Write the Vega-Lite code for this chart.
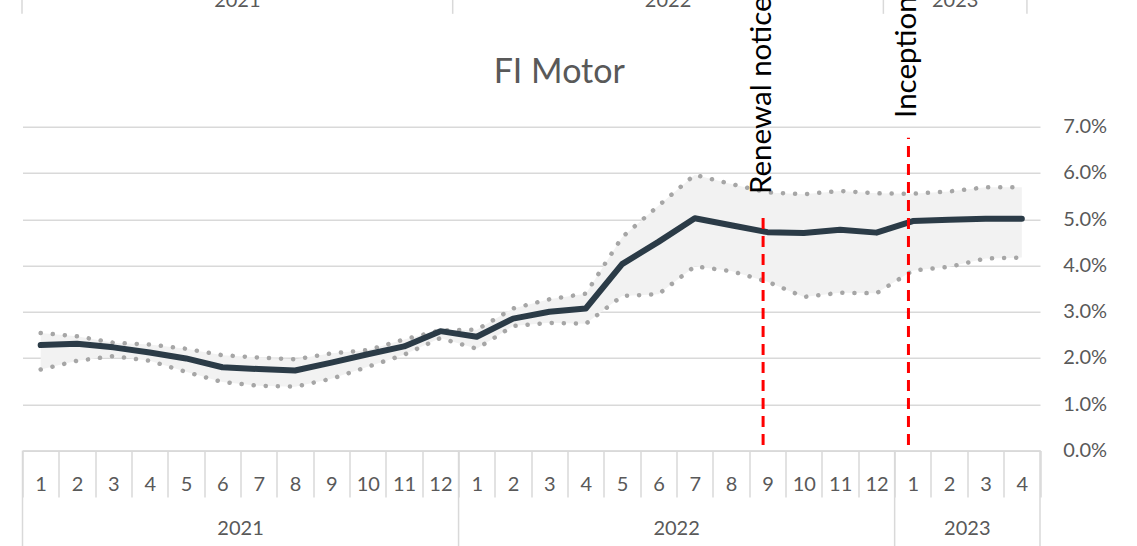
{
  "$schema": "https://vega.github.io/schema/vega-lite/v6.json",
  "autosize": {"type": "none"},
  "padding": {"left": 22.5, "top": 126.7, "right": 97, "bottom": 95.5},
  "width": 1017.5,
  "height": 323.8,
  "background": "white",
  "config": {"font": "Lato", "view": {"stroke": null}},
  "title": {"text": "FI Motor", "fontSize": 34, "font": "Lato", "fontWeight": "normal", "color": "#595959", "anchor": "middle", "frame": "group", "baseline": "alphabetic", "offset": -129.4, "dx": 28},
  "datasets": {
    "series": [
      {"m": "2021-01", "value": 0.0228, "upper": 0.0254, "lower": 0.0175},
      {"m": "2021-02", "value": 0.0231, "upper": 0.0247, "lower": 0.0194},
      {"m": "2021-03", "value": 0.0223, "upper": 0.0233, "lower": 0.0204},
      {"m": "2021-04", "value": 0.0212, "upper": 0.0229, "lower": 0.0194},
      {"m": "2021-05", "value": 0.0199, "upper": 0.0220, "lower": 0.0170},
      {"m": "2021-06", "value": 0.0180, "upper": 0.0206, "lower": 0.0148},
      {"m": "2021-07", "value": 0.0176, "upper": 0.0201, "lower": 0.0140},
      {"m": "2021-08", "value": 0.0173, "upper": 0.0197, "lower": 0.0138},
      {"m": "2021-09", "value": 0.0190, "upper": 0.0210, "lower": 0.0155},
      {"m": "2021-10", "value": 0.0208, "upper": 0.0217, "lower": 0.0181},
      {"m": "2021-11", "value": 0.0225, "upper": 0.0240, "lower": 0.0207},
      {"m": "2021-12", "value": 0.0258, "upper": 0.0260, "lower": 0.0243},
      {"m": "2022-01", "value": 0.0246, "upper": 0.0261, "lower": 0.0220},
      {"m": "2022-02", "value": 0.0285, "upper": 0.0307, "lower": 0.0269},
      {"m": "2022-03", "value": 0.0300, "upper": 0.0327, "lower": 0.0276},
      {"m": "2022-04", "value": 0.0307, "upper": 0.0339, "lower": 0.0274},
      {"m": "2022-05", "value": 0.0403, "upper": 0.0461, "lower": 0.0334},
      {"m": "2022-06", "value": 0.0451, "upper": 0.0529, "lower": 0.0338},
      {"m": "2022-07", "value": 0.0502, "upper": 0.0596, "lower": 0.0398},
      {"m": "2022-08", "value": 0.0487, "upper": 0.0576, "lower": 0.0388},
      {"m": "2022-09", "value": 0.0472, "upper": 0.0558, "lower": 0.0365},
      {"m": "2022-10", "value": 0.0470, "upper": 0.0554, "lower": 0.0332},
      {"m": "2022-11", "value": 0.0477, "upper": 0.0561, "lower": 0.0341},
      {"m": "2022-12", "value": 0.0471, "upper": 0.0556, "lower": 0.0340},
      {"m": "2023-01", "value": 0.0496, "upper": 0.0555, "lower": 0.0389},
      {"m": "2023-02", "value": 0.0499, "upper": 0.0560, "lower": 0.0397},
      {"m": "2023-03", "value": 0.0501, "upper": 0.0569, "lower": 0.0415},
      {"m": "2023-04", "value": 0.0501, "upper": 0.0569, "lower": 0.0417}
    ],
    "events": [
      {"m": "2022-09", "event": "Renewal notice", "low": 0.0012, "top": 0.0507, "label_y": 0.05545},
      {"m": "2023-01", "event": "Inception", "low": 0.0012, "top": 0.0676, "label_y": 0.0719}
    ],
    "years": [
      {"year": "2021", "m": "2021-07"},
      {"year": "2022", "m": "2022-07"},
      {"year": "2023", "m": "2023-03"}
    ],
    "remnant_lines": [{"rx": 0}, {"rx": 12}, {"rx": 24}, {"rx": 28}],
    "remnant_labels": [{"rx": 6, "year": "2021"}, {"rx": 18, "year": "2022"}, {"rx": 26, "year": "2023"}]
  },
  "layer": [
    {
      "layer": [
        {
          "data": {"name": "series"},
          "mark": {"type": "area", "color": "#f2f2f2"},
          "encoding": {
            "x": {"field": "m", "type": "ordinal", "scale": {"type": "band", "paddingInner": 0, "paddingOuter": 0},
                  "axis": {"orient": "bottom", "title": null, "domain": true, "domainColor": "#d9d9d9", "domainWidth": 1.5, "ticks": true, "tickBand": "extent", "tickSize": 46.5, "tickColor": "#d9d9d9", "tickWidth": 1.5, "grid": false, "labelAngle": 0, "labelFontSize": 20, "labelColor": "#595959", "labelPadding": -22.5, "labelExpr": "isString(datum.value) ? '' + toNumber(substring(datum.value, 5, 7)) : ''"}},
            "y": {"field": "lower", "type": "quantitative", "scale": {"domain": [0, 0.07], "nice": false, "zero": false},
                  "axis": {"orient": "right", "title": null, "format": ".1%", "values": [0, 0.01, 0.02, 0.03, 0.04, 0.05, 0.06, 0.07], "domain": false, "ticks": false, "labelFontSize": 20, "labelColor": "#595959", "labelPadding": 22.7, "labelAlign": "left", "labelBaseline": "middle", "grid": true, "gridColor": "#d9d9d9", "gridWidth": 1.5}},
            "y2": {"field": "upper"}
          }
        },
        {
          "data": {"name": "series"},
          "mark": {"type": "line", "color": "#a6a6a6", "strokeWidth": 4.5, "strokeDash": [0.1, 12], "strokeCap": "round"},
          "encoding": {
            "x": {"field": "m", "type": "ordinal"},
            "y": {"field": "upper", "type": "quantitative"}
          }
        },
        {
          "data": {"name": "series"},
          "mark": {"type": "line", "color": "#a6a6a6", "strokeWidth": 4.5, "strokeDash": [0.1, 12], "strokeCap": "round"},
          "encoding": {
            "x": {"field": "m", "type": "ordinal"},
            "y": {"field": "lower", "type": "quantitative"}
          }
        },
        {
          "data": {"name": "series"},
          "mark": {"type": "line", "color": "#2b3b47", "strokeWidth": 6, "strokeCap": "round", "strokeJoin": "round"},
          "encoding": {
            "x": {"field": "m", "type": "ordinal"},
            "y": {"field": "value", "type": "quantitative"}
          }
        },
        {
          "data": {"name": "events"},
          "mark": {"type": "rule", "color": "#ff0000", "strokeWidth": 3, "strokeDash": [11, 7]},
          "encoding": {
            "x": {"field": "m", "type": "ordinal", "bandPosition": 0.38},
            "y": {"field": "low", "type": "quantitative"},
            "y2": {"field": "top"}
          }
        },
        {
          "data": {"name": "events"},
          "mark": {"type": "text", "angle": 270, "align": "left", "baseline": "alphabetic", "fontSize": 29.5, "color": "#000000", "dy": 7.5},
          "encoding": {
            "x": {"field": "m", "type": "ordinal", "bandPosition": 0.38},
            "y": {"field": "label_y", "type": "quantitative"},
            "text": {"field": "event"}
          }
        },
        {
          "data": {"name": "series"},
          "transform": [{"filter": "substring(datum.m, 5, 7) == '01'"}],
          "mark": {"type": "rule", "color": "#d9d9d9", "strokeWidth": 1.5},
          "encoding": {
            "x": {"field": "m", "type": "ordinal", "bandPosition": 0},
            "y": {"datum": 0, "type": "quantitative"},
            "y2": {"datum": -0.023}
          }
        },
        {
          "data": {"name": "series"},
          "transform": [{"filter": "datum.m == '2023-04'"}],
          "mark": {"type": "rule", "color": "#d9d9d9", "strokeWidth": 1.5},
          "encoding": {
            "x": {"field": "m", "type": "ordinal", "bandPosition": 1},
            "y": {"datum": 0, "type": "quantitative"},
            "y2": {"datum": -0.023}
          }
        },
        {
          "data": {"name": "years"},
          "mark": {"type": "text", "align": "center", "baseline": "alphabetic", "fontSize": 20, "color": "#595959"},
          "encoding": {
            "x": {"field": "m", "type": "ordinal", "bandPosition": 0},
            "y": {"datum": -0.01833, "type": "quantitative"},
            "text": {"field": "year"}
          }
        }
      ]
    },
    {
      "layer": [
        {
          "data": {"name": "remnant_lines"},
          "mark": {"type": "rule", "color": "#d9d9d9", "strokeWidth": 1.5},
          "encoding": {
            "x": {"field": "rx", "type": "quantitative", "scale": {"domain": [0.014, 28.364], "nice": false, "zero": false},
                  "axis": {"orient": "top", "title": null, "labels": false, "ticks": false, "domain": false, "grid": false}},
            "y": {"datum": 0.0944, "type": "quantitative"},
            "y2": {"datum": 0.1}
          }
        },
        {
          "data": {"name": "remnant_labels"},
          "mark": {"type": "text", "align": "center", "baseline": "alphabetic", "fontSize": 20, "color": "#595959"},
          "encoding": {
            "x": {"field": "rx", "type": "quantitative"},
            "y": {"datum": 0.09598, "type": "quantitative"},
            "text": {"field": "year"}
          }
        }
      ]
    }
  ],
  "resolve": {"scale": {"x": "independent"}}
}
